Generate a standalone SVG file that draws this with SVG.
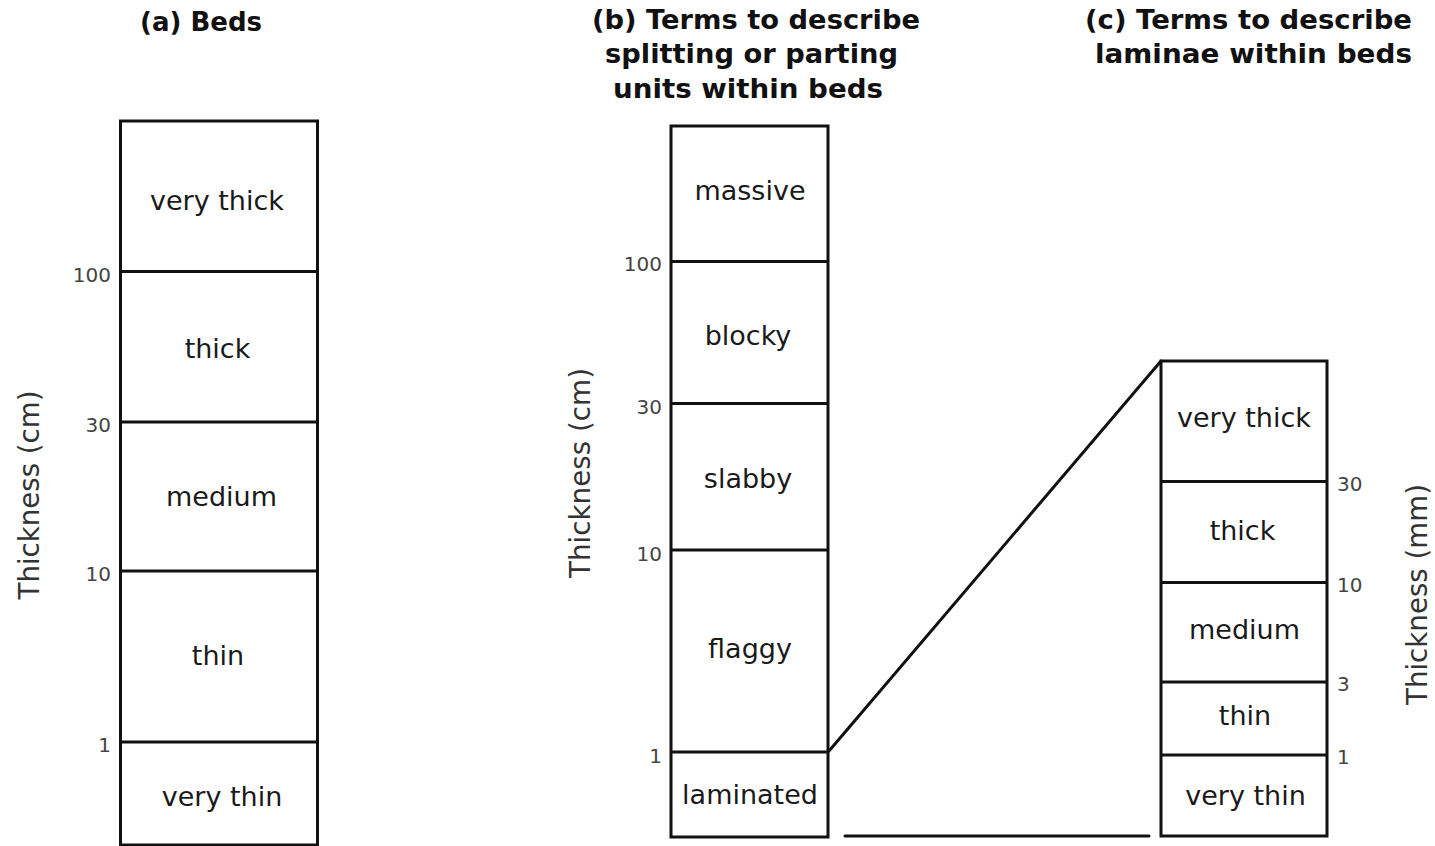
<svg xmlns="http://www.w3.org/2000/svg" width="1435" height="846" viewBox="0 0 1435 846">
  <style>
    .frame { fill: #ffffff; stroke: #111111; stroke-width: 3; }
    .rule { stroke: #111111; stroke-width: 3; fill: none; }
    .link { stroke: #111111; stroke-width: 3; fill: none; stroke-linecap: round; }
    .lbl { font-family: "DejaVu Sans", "Liberation Sans", sans-serif; font-size: 27px; fill: #1a1a1a; text-anchor: middle; }
    .num { font-family: "DejaVu Sans", "Liberation Sans", sans-serif; font-size: 20px; fill: #444444; }
    .num-r { text-anchor: end; }
    .axis { font-family: "DejaVu Sans", "Liberation Sans", sans-serif; font-size: 28px; fill: #333333; text-anchor: middle; }
    .title { font-family: "DejaVu Sans", "Liberation Sans", sans-serif; font-size: 27px; font-weight: bold; fill: #111111; }
  </style>

  <rect width="1435" height="846" fill="#ffffff"/>

  <!-- Headings -->
  <g id="titles">
    <text class="title" x="140" y="31" textLength="122" lengthAdjust="spacingAndGlyphs">(a) Beds</text>
    <text class="title" x="592" y="28.5" textLength="328" lengthAdjust="spacingAndGlyphs">(b) Terms to describe</text>
    <text class="title" x="605" y="63" textLength="293" lengthAdjust="spacingAndGlyphs">splitting or parting</text>
    <text class="title" x="613" y="98" textLength="270" lengthAdjust="spacingAndGlyphs">units within beds</text>
    <text class="title" x="1085" y="29" textLength="327" lengthAdjust="spacingAndGlyphs">(c) Terms to describe</text>
    <text class="title" x="1095" y="63" textLength="317" lengthAdjust="spacingAndGlyphs">laminae within beds</text>
  </g>

  <!-- Column (a): bed thickness terms -->
  <g id="beds">
    <rect class="frame" x="120.5" y="121" width="197" height="724"/>
    <g id="beds-very-thick"><text class="lbl" x="217" y="210">very thick</text></g>
    <g id="beds-thick">
      <line class="rule" x1="120.5" y1="271.5" x2="317.5" y2="271.5"/>
      <text class="lbl" x="217.5" y="358">thick</text>
    </g>
    <g id="beds-medium">
      <line class="rule" x1="120.5" y1="422" x2="317.5" y2="422"/>
      <text class="lbl" x="221.5" y="506">medium</text>
    </g>
    <g id="beds-thin">
      <line class="rule" x1="120.5" y1="571" x2="317.5" y2="571"/>
      <text class="lbl" x="218" y="665">thin</text>
    </g>
    <g id="beds-very-thin">
      <line class="rule" x1="120.5" y1="742" x2="317.5" y2="742"/>
      <text class="lbl" x="222" y="806">very thin</text>
    </g>
    <g id="beds-scale">
      <text class="num num-r" x="111" y="282">100</text>
      <text class="num num-r" x="111" y="432">30</text>
      <text class="num num-r" x="111" y="581">10</text>
      <text class="num num-r" x="111" y="752">1</text>
      <text class="axis" transform="translate(38.5,495) rotate(-90)" textLength="209" lengthAdjust="spacingAndGlyphs">Thickness (cm)</text>
    </g>
  </g>

  <!-- Column (b): splitting / parting units -->
  <g id="parting">
    <rect class="frame" x="671" y="126" width="157" height="711"/>
    <g id="parting-massive"><text class="lbl" x="750" y="200">massive</text></g>
    <g id="parting-blocky">
      <line class="rule" x1="671" y1="261.5" x2="828" y2="261.5"/>
      <text class="lbl" x="748" y="345">blocky</text>
    </g>
    <g id="parting-slabby">
      <line class="rule" x1="671" y1="403.5" x2="828" y2="403.5"/>
      <text class="lbl" x="748" y="488">slabby</text>
    </g>
    <g id="parting-flaggy">
      <line class="rule" x1="671" y1="550" x2="828" y2="550"/>
      <text class="lbl" x="750" y="658">flaggy</text>
    </g>
    <g id="parting-laminated">
      <line class="rule" x1="671" y1="752" x2="828" y2="752"/>
      <text class="lbl" x="750" y="804">laminated</text>
    </g>
    <g id="parting-scale">
      <text class="num num-r" x="662" y="271">100</text>
      <text class="num num-r" x="662" y="413.5">30</text>
      <text class="num num-r" x="662" y="560.5">10</text>
      <text class="num num-r" x="662" y="762.5">1</text>
      <text class="axis" transform="translate(589.5,473) rotate(-90)" textLength="210" lengthAdjust="spacingAndGlyphs">Thickness (cm)</text>
    </g>
  </g>

  <!-- Column (c): laminae thickness terms -->
  <g id="laminae">
    <rect class="frame" x="1161" y="361" width="166" height="475"/>
    <g id="laminae-very-thick"><text class="lbl" x="1244" y="427">very thick</text></g>
    <g id="laminae-thick">
      <line class="rule" x1="1161" y1="481.5" x2="1327" y2="481.5"/>
      <text class="lbl" x="1242.5" y="540">thick</text>
    </g>
    <g id="laminae-medium">
      <line class="rule" x1="1161" y1="582.5" x2="1327" y2="582.5"/>
      <text class="lbl" x="1244.5" y="639">medium</text>
    </g>
    <g id="laminae-thin">
      <line class="rule" x1="1161" y1="682" x2="1327" y2="682"/>
      <text class="lbl" x="1245" y="725">thin</text>
    </g>
    <g id="laminae-very-thin">
      <line class="rule" x1="1161" y1="755" x2="1327" y2="755"/>
      <text class="lbl" x="1245.5" y="805">very thin</text>
    </g>
    <g id="laminae-scale">
      <text class="num" x="1337" y="491">30</text>
      <text class="num" x="1337" y="592">10</text>
      <text class="num" x="1337" y="691">3</text>
      <text class="num" x="1337" y="763.5">1</text>
      <text class="axis" transform="translate(1426.5,594.5) rotate(-90)" textLength="221" lengthAdjust="spacingAndGlyphs">Thickness (mm)</text>
    </g>
  </g>

  <!-- Expansion lines linking the laminated unit to column (c) -->
  <g id="connectors">
    <line class="link" x1="829" y1="751" x2="1161" y2="361"/>
    <line class="link" x1="845" y1="836" x2="1149" y2="836"/>
  </g>
</svg>
